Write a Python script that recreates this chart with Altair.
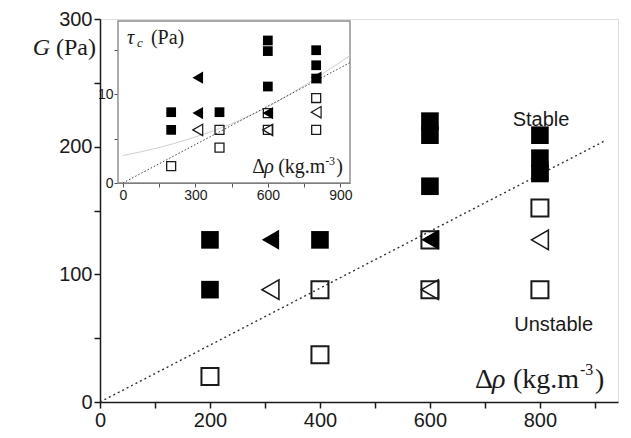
import altair as alt
import pandas as pd

# ---------------- main chart data: delta rho (kg/m3) vs G (Pa) ----------------
fs_x = [200, 200, 400, 600, 600, 600, 800, 800, 800]      # filled squares
fs_y = [127, 88, 127, 220, 209, 169, 209, 191, 179]
ft_x = [310, 600, 800]                                     # filled triangles
ft_y = [127, 127, 181]
ot_x = [310, 600, 800]                                     # open triangles
ot_y = [88, 88, 127]
os_x = [200, 400, 400, 600, 600, 800, 800]                 # open squares
os_y = [20, 37, 88, 127, 88, 152, 88]
line_x = [0, 920]                                          # dotted boundary
line_y = [0, 205]
x_ticks = [0, 100, 200, 300, 400, 500, 600, 700, 800, 900]
y_ticks = [0, 50, 100, 150, 200, 250, 300]

# ---------------- inset data: delta rho vs tau_c (Pa) ----------------
i_fs_x = [200, 200, 400, 600, 600, 600, 800, 800, 800]
i_fs_y = [8, 6, 8, 16.1, 14.9, 10.9, 15, 13.3, 11.8]
i_ft_x = [310, 310, 600, 800]
i_ft_y = [11.9, 7.9, 7.9, 11.9]
i_ot_x = [310, 600, 800]
i_ot_y = [6, 6, 8]
i_os_x = [200, 400, 400, 600, 600, 800, 800]
i_os_y = [1.9, 6, 4, 7.9, 6, 9.6, 6]
i_line_x = [0, 940]
i_line_y = [0, 13.6]
i_fit_x = [0, 150, 300, 450, 600, 750, 940]
i_fit_y = [3.1, 4.0, 5.2, 6.7, 8.6, 11.0, 14.4]
i_x_ticks = [0, 150, 300, 450, 600, 750, 900]
i_y_ticks = [0, 5, 10, 15]
i_x_dom = [-20, 940]
i_y_dom = [0, 18.3]

W, H = 518, 383
INK = "#1a1a1a"
SANS = "Liberation Sans"
SERIF = "Liberation Serif"

# ---------------- scales & axes ----------------
mxs = alt.Scale(domain=[0, 942], nice=False, zero=False)
mys = alt.Scale(domain=[0, 300], nice=False, zero=False)
mxa = alt.Axis(orient="bottom", values=x_ticks, title=None, grid=False,
               labelExpr="datum.value % 200 == 0 ? datum.label : ''",
               labelFont=SANS, labelFontSize=20, labelColor=INK, labelFlush=False,
               tickSize=6, tickColor=INK, domainColor=INK, tickWidth=1.5,
               domainWidth=1.5, labelPadding=2)
mya = alt.Axis(orient="left", values=y_ticks, title=None, grid=False,
               labelExpr="datum.value % 100 == 0 ? datum.label : ''",
               labelFont=SANS, labelFontSize=20, labelColor=INK, labelFlush=False,
               tickSize=6, tickColor=INK, domainColor=INK, tickWidth=1.5,
               domainWidth=1.5, labelPadding=2)

IL, IR, IT, IB = 18, 250, 2, 164   # inset pixel box inside the plot area
ixs = alt.Scale(domain=i_x_dom, range=[IL, IR], nice=False, zero=False)
iys = alt.Scale(domain=i_y_dom, range=[IB, IT], nice=False, zero=False)
ixa = alt.Axis(orient="bottom", offset=-(H - IB), values=i_x_ticks, title=None,
               grid=False, labelExpr="datum.value % 300 == 0 ? datum.label : ''",
               labelFont=SANS, labelFontSize=14, labelColor=INK, labelFlush=False,
               tickSize=4, tickColor="#555", domainColor="#555", labelPadding=1)
iya = alt.Axis(orient="left", offset=-IL, values=i_y_ticks, title=None, grid=False,
               labelExpr="datum.value % 10 == 0 ? datum.label : ''",
               labelFont=SANS, labelFontSize=14, labelColor=INK, labelFlush=False,
               tickSize=4, tickColor="#555", domainColor="#555", labelPadding=1)


def enc(ch, xs, ys, xa, ya):
    return ch.encode(x=alt.X("x:Q", scale=xs, axis=xa), y=alt.Y("y:Q", scale=ys, axis=ya))


def pts(x, y, shape, filled, size, sw, xs, ys, xa, ya):
    df = pd.DataFrame({"x": x, "y": y})
    if filled:
        m = alt.Chart(df).mark_point(shape=shape, filled=True, size=size, color="black", opacity=1)
    else:
        m = alt.Chart(df).mark_point(shape=shape, filled=False, size=size, color=INK,
                                     strokeWidth=sw, opacity=1)
    return enc(m, xs, ys, xa, ya)


def txt(t, x, y, xs, ys, xa, ya, size, style="normal", font=SERIF, align="left", dx=0, dy=0):
    df = pd.DataFrame({"x": [x], "y": [y], "t": [t]})
    m = alt.Chart(df).mark_text(font=font, fontSize=size, fontStyle=style, align=align,
                                baseline="middle", dx=dx, dy=dy, color=INK)
    return enc(m, xs, ys, xa, ya).encode(text="t:N")


M = (mxs, mys, mxa, mya)
I = (ixs, iys, ixa, iya)

main_layers = [
    enc(alt.Chart(pd.DataFrame({"x": line_x, "y": line_y})).mark_line(
        color="#333", strokeWidth=1.4, strokeDash=[2, 3]), *M),
    pts(os_x, os_y, "square", False, 290, 2, *M),
    pts(ot_x, ot_y, "triangle-left", False, 380, 1.6, *M),
    pts(fs_x, fs_y, "square", True, 310, 0, *M),
    pts(ft_x, ft_y, "triangle-left", True, 400, 0, *M),
    txt("Stable", 802, 221, *M, size=20, font=SANS, align="center"),
    txt("Unstable", 825, 60, *M, size=20, font=SANS, align="center"),
    # G (Pa)
    txt("(Pa)", 0, 277, *M, size=24, align="right", dx=-4),
    txt("G", 0, 277, *M, size=24, style="italic", align="right", dx=-50),
    # Δρ (kg.m-3)
    txt("Δ", 682, 17, *M, size=28),
    txt("ρ", 682, 17, *M, size=28, style="italic", dx=17),
    txt("(kg.m", 682, 17, *M, size=28, dx=38),
    txt("-3", 682, 17, *M, size=16, dx=105, dy=-10),
    txt(")", 682, 17, *M, size=28, dx=120),
]
main = alt.layer(*main_layers)

frame_df = pd.DataFrame({"x": [i_x_dom[0]], "x2": [i_x_dom[1]],
                         "y": [i_y_dom[0]], "y2": [i_y_dom[1]]})
inset_layers = [
    alt.Chart(frame_df).mark_rect(fill="white", stroke="#8a8a8a", strokeWidth=1.4).encode(
        x=alt.X("x:Q", scale=ixs, axis=ixa), x2="x2:Q",
        y=alt.Y("y:Q", scale=iys, axis=iya), y2="y2:Q"),
    enc(alt.Chart(pd.DataFrame({"x": i_fit_x, "y": i_fit_y})).mark_line(
        color="#cfcfcf", strokeWidth=1, interpolate="monotone"), *I),
    enc(alt.Chart(pd.DataFrame({"x": i_line_x, "y": i_line_y})).mark_line(
        color="#444", strokeWidth=1, strokeDash=[1.5, 2]), *I),
    pts(i_os_x, i_os_y, "square", False, 80, 1.3, *I),
    pts(i_ot_x, i_ot_y, "triangle-left", False, 130, 1.2, *I),
    pts(i_fs_x, i_fs_y, "square", True, 95, 0, *I),
    pts(i_ft_x, i_ft_y, "triangle-left", True, 150, 0, *I),
    # tau_c (Pa)
    txt("τ", 17, 16.4, *I, size=20, style="italic"),
    txt("c", 17, 16.4, *I, size=13, style="italic", dx=10, dy=5),
    txt("(Pa)", 17, 16.4, *I, size=20, dx=24),
    # Δρ (kg.m-3)
    txt("Δ", 535, 1.8, *I, size=20),
    txt("ρ", 535, 1.8, *I, size=20, style="italic", dx=12),
    txt("(kg.m", 535, 1.8, *I, size=20, dx=26),
    txt("-3", 535, 1.8, *I, size=12, dx=73, dy=-6),
    txt(")", 535, 1.8, *I, size=20, dx=84),
]
inset = alt.layer(*inset_layers)

chart = alt.layer(main, inset).resolve_scale(x="independent", y="independent").properties(
    width=W, height=H,
    autosize=alt.AutoSizeParams(type="none"),
    padding={"left": 92, "top": 11, "right": 5, "bottom": 28},
).configure_view(stroke=INK, strokeWidth=1.5).configure(background="white")

chart.save("out.html", embed_options={"renderer": "svg", "actions": False})
